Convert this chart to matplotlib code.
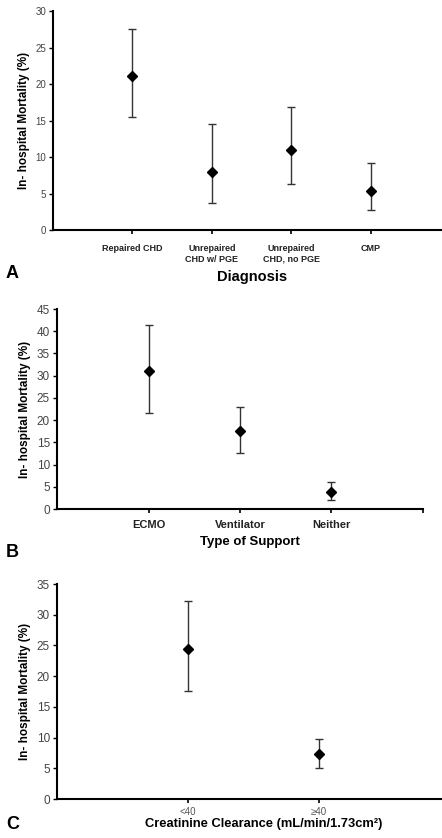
import matplotlib
matplotlib.use("Agg")
import matplotlib.pyplot as plt

plt.rcParams["font.family"] = ["Liberation Sans", "DejaVu Sans"]

# ── Data ──────────────────────────────────────────────────────────────────────
diag_labels = ["Repaired CHD", "Unrepaired\nCHD w/ PGE", "Unrepaired\nCHD, no PGE", "CMP"]
diag_mort   = [21.1, 8.0, 11.0, 5.4]
diag_lo     = [15.5, 3.7, 6.3, 2.8]
diag_hi     = [27.6, 14.5, 16.9, 9.2]

supp_labels = ["ECMO", "Ventilator", "Neither"]
supp_mort   = [31.0, 17.5, 3.9]
supp_lo     = [21.6, 12.5, 2.0]
supp_hi     = [41.4, 23.0, 6.1]

crcl_labels = ["<40", "≥40"]
crcl_mort   = [24.5, 7.4]
crcl_lo     = [17.6, 5.1]
crcl_hi     = [32.2, 9.7]

W, H = 442, 838
fig = plt.figure(figsize=(W / 100, H / 100), dpi=100)
fig.patch.set_facecolor("white")


def px_axes(left, top, right, bottom):
    return fig.add_axes([left / W, 1 - bottom / H, (right - left) / W, (bottom - top) / H])


def draw(ax, labels, mort, lo, hi, ymax, ystep, xmax, tick_fs, lab_fs, lab_bold, lab_col, xpad):
    xs = list(range(1, len(labels) + 1))
    yerr = [[m - l for m, l in zip(mort, lo)], [h - m for m, h in zip(mort, hi)]]
    ax.errorbar(xs, mort, yerr=yerr, fmt="none", ecolor="#333333", elinewidth=1.0,
                capsize=3, capthick=1.0, zorder=2)
    ax.plot(xs, mort, linestyle="none", marker="D", ms=5, color="black", zorder=3)
    ax.set_xlim(0, xmax)
    ax.set_ylim(0, ymax)
    ax.set_yticks(range(0, ymax + 1, ystep))
    ax.set_xticks(xs)
    ax.set_xticklabels(labels, fontsize=lab_fs, fontweight="bold" if lab_bold else "normal",
                       color=lab_col, linespacing=1.25)
    for s in ("top", "right"):
        ax.spines[s].set_visible(False)
    for s in ("left", "bottom"):
        ax.spines[s].set_linewidth(1.5)
    ax.tick_params(axis="y", direction="out", length=3, width=1, labelsize=tick_fs,
                   colors="black", labelcolor="#444444", pad=2)
    ax.tick_params(axis="x", direction="out", length=3, width=1.2, pad=xpad)
    ax.set_ylabel("In- hospital Mortality (%)", fontsize=8.5, fontweight="bold", labelpad=4)


# ── Panel A ───────────────────────────────────────────────────────────────────
axA = px_axes(53, 11, 442, 230)
draw(axA, diag_labels, diag_mort, diag_lo, diag_hi, 30, 5, 4.9, 7, 6.5, True, "#222222", 7)
fig.text(252 / W, 1 - 277 / H, "Diagnosis", fontsize=10.5, fontweight="bold", ha="center", va="center")
fig.text(6 / W, 1 - 273 / H, "A", fontsize=13, fontweight="bold", ha="left", va="center")

# ── Panel B ───────────────────────────────────────────────────────────────────
axB = px_axes(57, 309, 423, 509)
draw(axB, supp_labels, supp_mort, supp_lo, supp_hi, 45, 5, 4, 8.5, 8, True, "#222222", 5)
axB.set_xticks([1, 2, 3, 4])
axB.set_xticklabels(supp_labels + [""], fontsize=8, fontweight="bold", color="#222222")
fig.text(250 / W, 1 - 542 / H, "Type of Support", fontsize=9.5, fontweight="bold", ha="center", va="center")
fig.text(6 / W, 1 - 552 / H, "B", fontsize=13, fontweight="bold", ha="left", va="center")

# ── Panel C ───────────────────────────────────────────────────────────────────
axC = px_axes(57, 584, 442, 799)
draw(axC, crcl_labels, crcl_mort, crcl_lo, crcl_hi, 35, 5, 2.94, 8.5, 7, False, "#555555", 3)
fig.text(264 / W, 1 - 824 / H, "Creatinine Clearance (mL/min/1.73cm²)", fontsize=9.3,
         fontweight="bold", ha="center", va="center")
fig.text(6 / W, 1 - 824 / H, "C", fontsize=13, fontweight="bold", ha="left", va="center")

fig.savefig("out.png", dpi=100, facecolor="white")
